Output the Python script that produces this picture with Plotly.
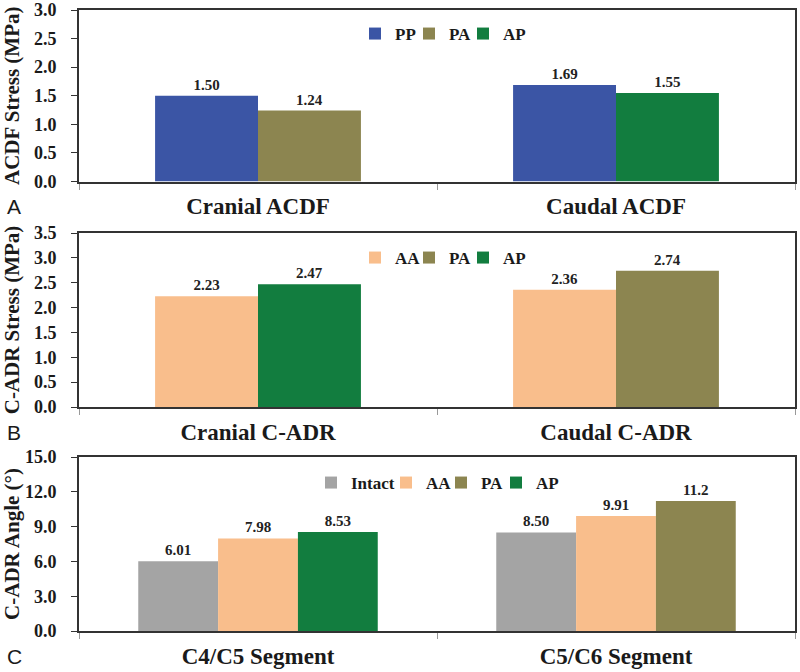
import plotly.graph_objects as go

# ---------------- data ----------------
cats_a = ["Cranial ACDF", "Caudal ACDF"]
a_pp = [1.50, 1.69]
a_pa_cat = ["Cranial ACDF"]; a_pa = [1.24]
a_ap_cat = ["Caudal ACDF"]; a_ap = [1.55]

cats_b = ["Cranial C-ADR", "Caudal C-ADR"]
b_aa = [2.23, 2.36]
b_ap_cat = ["Cranial C-ADR"]; b_ap = [2.47]
b_pa_cat = ["Caudal C-ADR"]; b_pa = [2.74]

cats_c = ["C4/C5 Segment", "C5/C6 Segment"]
c_intact = [6.01, 8.50]
c_aa = [7.98, 9.91]
c_ap_cat = ["C4/C5 Segment"]; c_ap = [8.53]
c_pa_cat = ["C5/C6 Segment"]; c_pa = [11.2]
c_pa_text = ["11.2"]

yticks_a = [0.0, 0.5, 1.0, 1.5, 2.0, 2.5, 3.0]
yticks_b = [0.0, 0.5, 1.0, 1.5, 2.0, 2.5, 3.0, 3.5]
yticks_c = [0.0, 3.0, 6.0, 9.0, 12.0, 15.0]

# ---------------- style ----------------
COL = {"PP": "#3B55A5", "PA": "#8C8550", "AP": "#127D3F",
       "AA": "#F9BE8C", "Intact": "#A4A4A4"}
SERIF = "Liberation Serif"
LBL = dict(family=SERIF, size=15, color="#222222", weight="bold")

W, H = 800, 672
def fx(px):
    return px / W
def fy(py):
    return 1 - py / H

fig = go.Figure()

def add_bar(x, y, name, xa, ya, og, legend, rank, lw, text=None, width=None, offset=None):
    if text is None:
        text = [f"{v:.2f}" for v in y]
    fig.add_trace(go.Bar(
        x=x, y=y, name=name, marker=dict(color=COL[name], line=dict(width=0)),
        xaxis=xa, yaxis=ya, offsetgroup=og, legend=legend, legendrank=rank,
        legendwidth=lw,
        text=text, textposition="outside", textfont=LBL, cliponaxis=False,
        width=width, offset=offset,
    ))

# Panel A
add_bar(cats_a, a_pp, "PP", "x", "y", "1", "legend", 1, 9)
add_bar(a_pa_cat, a_pa, "PA", "x", "y", "2", "legend", 2, 9)
add_bar(a_ap_cat, a_ap, "AP", "x", "y", "2", "legend", 3, 30)
# Panel B
add_bar(cats_b, b_aa, "AA", "x2", "y2", "1", "legend2", 1, 9)
add_bar(b_pa_cat, b_pa, "PA", "x2", "y2", "2", "legend2", 2, 9)
add_bar(b_ap_cat, b_ap, "AP", "x2", "y2", "2", "legend2", 3, 30)
# Panel C (three bars per group, wider group)
BW = 0.223
add_bar(cats_c, c_intact, "Intact", "x3", "y3", "1", "legend3", 1, 30, width=BW, offset=-1.5 * BW)
add_bar(cats_c, c_aa, "AA", "x3", "y3", "2", "legend3", 2, 10, width=BW, offset=-0.5 * BW)
add_bar(c_pa_cat, c_pa, "PA", "x3", "y3", "3", "legend3", 3, 10, text=c_pa_text, width=BW, offset=0.5 * BW)
add_bar(c_ap_cat, c_ap, "AP", "x3", "y3", "3", "legend3", 4, 30, width=BW, offset=0.5 * BW)

XD = [fx(79), fx(795)]
def yd(top, bot):
    return [fy(bot), fy(top)]

FRAME = "#333333"
def xaxis(cats):
    return dict(domain=XD, type="category", categoryorder="array", categoryarray=cats,
                showline=True, linecolor=FRAME, linewidth=2, mirror=True,
                ticks="outside", tickson="boundaries", ticklen=6, tickcolor="#999999",
                tickfont=dict(family=SERIF, size=23, color="#1a1a1a", weight="bold"),
                ticklabelstandoff=3, showgrid=False, automargin=False, fixedrange=True)

def yaxis(rng, tv, title, dom):
    return dict(domain=dom, range=rng, tickvals=tv, tickformat=".1f",
                showline=True, linecolor=FRAME, linewidth=2, mirror=True,
                ticks="outside", ticklen=6, tickcolor=FRAME, showgrid=False, zeroline=False,
                tickfont=dict(family=SERIF, size=18, color="#1a1a1a", weight="bold"),
                ticklabelstandoff=11, ticklabeloverflow="allow",
                title=dict(text=title, standoff=9,
                           font=dict(family=SERIF, size=21, color="#1a1a1a", weight="bold")),
                automargin=False, fixedrange=True)

dA, dB, dC = yd(10, 181.5), yd(233, 407), yd(457, 631)
xa = xaxis(cats_a); xa["anchor"] = "y"
xb = xaxis(cats_b); xb["anchor"] = "y2"
xc = xaxis(cats_c); xc["anchor"] = "y3"
ya = yaxis([0, 3.0], yticks_a, "ACDF Stress (MPa)", dA); ya["anchor"] = "x"
yb = yaxis([0, 3.5], yticks_b, "C-ADR Stress (MPa)", dB); yb["anchor"] = "x2"
yc = yaxis([0, 15], yticks_c, "C-ADR Angle (°)", dC); yc["anchor"] = "x3"

def legend(xsym, ycen):
    return dict(orientation="h", x=fx(xsym - 13), y=fy(ycen), xanchor="left", yanchor="middle",
                font=dict(family=SERIF, size=17, color="#1a1a1a", weight="bold"),
                bgcolor="rgba(0,0,0,0)", itemwidth=30, traceorder="normal")

fig.update_layout(
    width=W, height=H, margin=dict(l=0, r=0, t=0, b=0, autoexpand=False),
    paper_bgcolor="white", plot_bgcolor="white",
    barmode="group", bargap=0.425, showlegend=True,
    xaxis=xa, xaxis2=xb, xaxis3=xc, yaxis=ya, yaxis2=yb, yaxis3=yc,
    legend=legend(368, 34), legend2=legend(368, 258), legend3=legend(324, 483),
    font=dict(family=SERIF),
)

for letter, yy in [("A", 206), ("B", 432), ("C", 656)]:
    fig.add_annotation(text=letter, x=fx(5), y=fy(yy), xref="paper", yref="paper",
                       xanchor="left", yanchor="middle", showarrow=False,
                       font=dict(family="Liberation Sans", size=21, color="#1a1a1a"))

fig.write_html("out.html", config={"displayModeBar": False},
               post_script="document.body.style.margin='0';")
